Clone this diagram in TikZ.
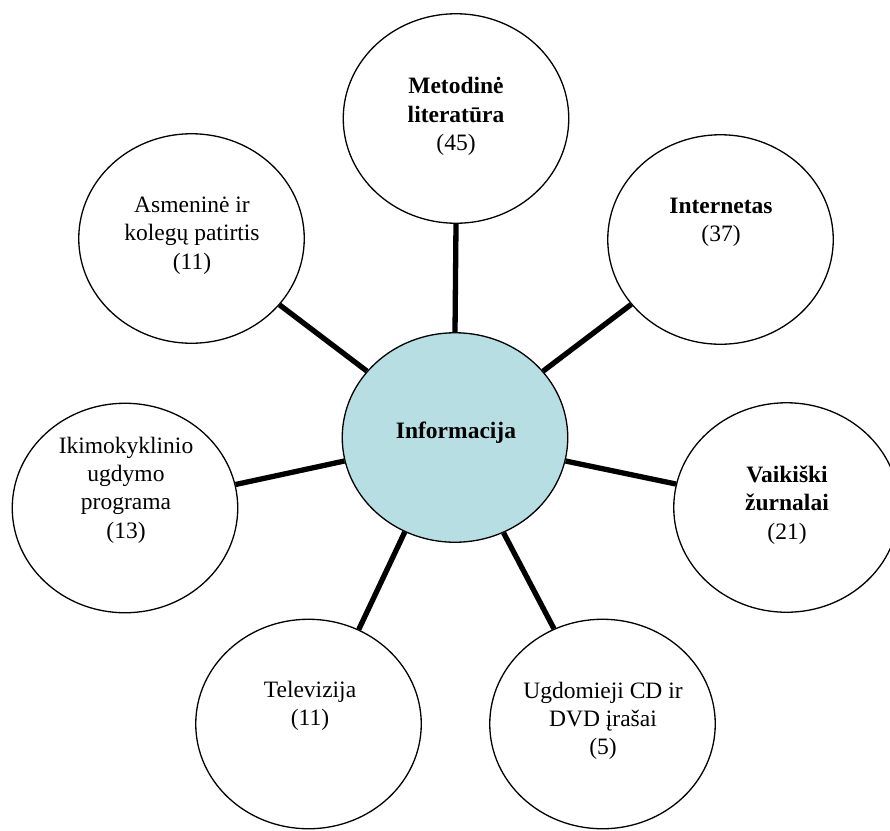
\documentclass[tikz,border=0pt]{standalone}
\usepackage{fontspec}
\setmainfont{Liberation Serif}
\usetikzlibrary{shapes.geometric}
\definecolor{infofill}{RGB}{183,222,226}
\begin{document}
\begin{tikzpicture}[x=1pt,y=-1pt,
  bubble/.style={ellipse, draw=black, line width=1.3pt, fill=white, minimum width=225.5pt, minimum height=209.5pt, inner sep=0pt},
  hub/.style={bubble, fill=infofill},
  lbl/.style={align=center, font=\fontsize{23.5}{28.3}\selectfont, inner sep=0pt},
  link/.style={line width=5.3pt, line cap=butt}]
\useasboundingbox (0,0) rectangle (890,830);
\fill[white] (0,0) rectangle (890,830);

\node[hub]    (c) at (455,437.5) {};
\node[bubble] (m) at (456,118.5) {};
\node[bubble] (i) at (720.5,239.5) {};
\node[bubble] (a) at (191.5,238.5) {};
\node[bubble] (k) at (125,508) {};
\node[bubble] (v) at (786.5,507.5) {};
\node[bubble] (t) at (308.5,724) {};
\node[bubble] (u) at (602.5,724) {};

\node[lbl] (ct) at (456,433) {\textbf{Informacija}};
\node[lbl] (mt) at (456,116.5) {\textbf{Metodinė}\\\textbf{literatūra}\\(45)};
\node[lbl] (it) at (721,222) {\textbf{Internetas}\\(37)};
\node[lbl] (at) at (192,235.5) {Asmeninė ir\\kolegų patirtis\\(11)};
\node[lbl] (kt) at (126,490) {Ikimokyklinio\\ugdymo\\programa\\(13)};
\node[lbl] (vt) at (787,505) {\textbf{Vaikiški}\\\textbf{žurnalai}\\(21)};
\node[lbl] (tt) at (310,706) {Televizija\\(11)};
\node[lbl] (ut) at (603,721) {Ugdomieji CD ir\\DVD įrašai\\(5)};

\draw[link] (c.90) -- (m.270);
\draw[link] (c.37) -- (i.216.5);
\draw[link] (c.143) -- (a.-37.6);
\draw[link] (c.192.3) -- (k.12.8);
\draw[link] (c.-12.3) -- (v.168.5);
\draw[link] (c.242.9) -- (t.62.7);
\draw[link] (c.297.6) -- (u.117.3);
\end{tikzpicture}
\end{document}
